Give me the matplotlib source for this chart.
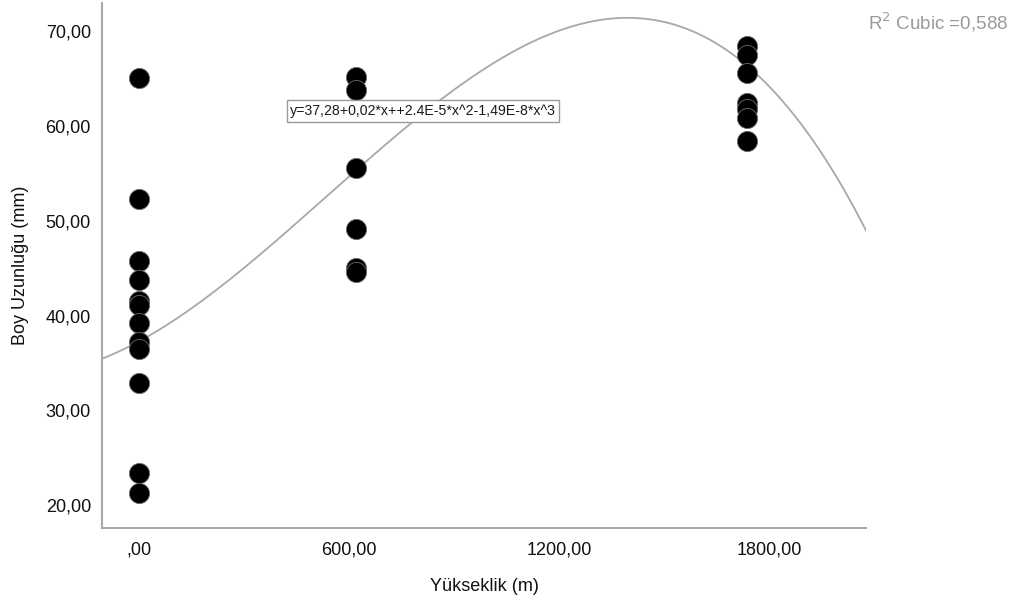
import matplotlib
matplotlib.use("Agg")
import matplotlib.pyplot as plt
import numpy as np

plt.rcParams["font.family"] = ["Liberation Sans", "DejaVu Sans"]

# Altitude groups (m) and body length (mm) measured at each
x_low = [0] * 12
y_low = [65.1, 52.3, 45.8, 43.8, 41.6, 41.1, 39.2, 37.2, 36.5, 32.9, 23.4, 21.3]
x_mid = [620] * 6
y_mid = [65.2, 63.8, 55.6, 49.1, 45.0, 44.6]
x_high = [1735] * 7
y_high = [68.5, 67.5, 65.6, 62.4, 61.8, 60.9, 58.4]

# Cubic fit coefficients: a + b*x + c*x^2 + d*x^3
fit_coef = [37.28, 0.02, 2.4e-5, -1.49e-8]
fit_label = "y=37,28+0,02*x++2.4E-5*x^2-1,49E-8*x^3"
r2_label = "R$^2$ Cubic =0,588"

x_ticks = [0, 600, 1200, 1800]
x_ticklabels = [",00", "600,00", "1200,00", "1800,00"]
y_ticks = [20, 30, 40, 50, 60, 70]
y_ticklabels = ["20,00", "30,00", "40,00", "50,00", "60,00", "70,00"]

W, H = 1022, 608
fig = plt.figure(figsize=(W / 100, H / 100), dpi=100)
ax = fig.add_axes([102 / W, (H - 528) / H, (866 - 102) / W, (528 - 3) / H])

xlim = (-105, 2075)
ax.set_xlim(*xlim)
ax.set_ylim(17.6, 73.0)

xs = np.concatenate([x_low, x_mid, x_high])
ys = np.concatenate([y_low, y_mid, y_high])
ax.scatter(xs, ys, s=210, c="black", edgecolors="#6a6a6a", linewidths=0.6, zorder=3)

xc = np.linspace(xlim[0], xlim[1], 400)
a, b, c, d = fit_coef
ax.plot(xc, a + b * xc + c * xc**2 + d * xc**3, color="#a8a8a8", lw=1.3, zorder=2)

# equation box sits just under the upper mid-altitude points
fig.text(423 / W, 1 - 111 / H, fit_label, fontsize=10.2, color="#1a1a1a",
         ha="center", va="center", zorder=5,
         bbox=dict(boxstyle="square,pad=0.25", fc="white", ec="#9a9a9a", lw=1.0))

fig.text(868 / W, 1 - 22 / H, r2_label, fontsize=13.5, color="#9a9a9a", ha="left",
         va="center")

for side in ("top", "right"):
    ax.spines[side].set_visible(False)
for side in ("left", "bottom"):
    ax.spines[side].set_color("#a8a8a8")
    ax.spines[side].set_linewidth(1.5)

ax.set_xticks(x_ticks)
ax.set_xticklabels(x_ticklabels)
ax.set_yticks(y_ticks)
ax.set_yticklabels(y_ticklabels)
ax.tick_params(axis="both", length=0, labelsize=13, labelcolor="#111111")
ax.tick_params(axis="x", pad=10)
ax.tick_params(axis="y", pad=8)

ax.set_xlabel("Yükseklik (m)", fontsize=13, color="#111111", labelpad=14)
ax.set_ylabel("Boy Uzunluğu (mm)", fontsize=13, color="#111111", labelpad=12)

fig.savefig("out.png", dpi=100, facecolor="white")
